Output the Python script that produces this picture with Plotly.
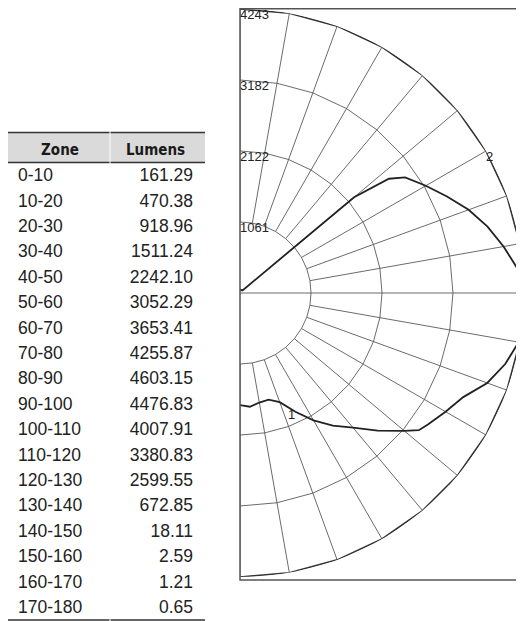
import plotly.graph_objects as go

# ---------------- data ----------------
zones = ["0-10", "10-20", "20-30", "30-40", "40-50", "50-60", "60-70", "70-80",
         "80-90", "90-100", "100-110", "110-120", "120-130", "130-140",
         "140-150", "150-160", "160-170", "170-180"]
lumens = [161.29, 470.38, 918.96, 1511.24, 2242.10, 3052.29, 3653.41, 4255.87,
          4603.15, 4476.83, 4007.91, 3380.83, 2599.55, 672.85, 18.11, 2.59,
          1.21, 0.65]
headers = ["Zone", "Lumens"]

ring_values = [1061, 2122, 3182, 4243]
grid_angles = list(range(0, 181, 10))

curve1_angles = [0, 5, 10, 15, 20, 25, 30, 35, 40, 45, 50, 52.5, 55, 60, 65,
                 70, 75, 80, 85, 90]
curve1_cd = [1676, 1706, 1662, 1650, 1736, 1958, 2196, 2418, 2626, 2908, 3205,
             3368, 3427, 3546, 3680, 3931, 4102, 4228, 4320, 4330]

curve2_angles = [90, 95, 100, 105, 110, 115, 120, 125, 127.5, 130, 135, 140,
                 145, 150, 155, 160, 165, 170, 175, 180]
curve2_cd = [4330, 4162, 3998, 3828, 3635, 3412, 3205, 3012, 2804, 2225, 60,
             50, 50, 50, 50, 50, 50, 50, 50, 50]

curve_labels = ["1", "2"]

# ---------------- figure ----------------
W, H = 516, 613
fig = go.Figure()


def py(y):  # pixel-from-top -> paper fraction
    return (H - y) / H


clear = "rgba(0,0,0,0)"
header_font = dict(family="Liberation Sans Narrow, DejaVu Sans Condensed, Liberation Sans",
                   size=15, color="#1a1a1a")

# header row of the table
fig.add_trace(go.Table(
    domain=dict(x=[2 / W, 193 / W], y=[py(220), py(125)]),
    columnwidth=[100, 91],
    header=dict(values=["<b>%s</b>" % h for h in headers], align="center", height=29,
                fill_color=clear, line=dict(color=clear, width=0), font=header_font),
    cells=dict(values=[[""], [""]], height=25.4, fill_color=clear,
               line=dict(color=clear, width=0)),
))

# body rows of the table
fig.add_trace(go.Table(
    domain=dict(x=[2 / W, 193 / W], y=[0, py(122)]),
    columnwidth=[100, 91],
    header=dict(values=["", ""], height=30,
                fill_color=clear, line=dict(color=clear, width=0), font=header_font),
    cells=dict(
        values=[zones, lumens],
        format=[None, ".2f"],
        align=["left", "right"],
        height=25.4,
        fill_color=clear,
        line=dict(color=clear, width=0),
        font=dict(family="Liberation Sans, Arial", size=17.5, color="#222"),
    ),
))

polar_kw = dict(subplot="polar", showlegend=False, hoverinfo="skip")

# inner rings
r_rings, t_rings = [], []
for v in ring_values[:-1]:
    r_rings += [v] * len(grid_angles) + [None]
    t_rings += grid_angles + [None]
fig.add_trace(go.Scatterpolar(r=r_rings, theta=t_rings, mode="lines",
                              line=dict(color="#5a5a5a", width=0.9), **polar_kw))

# spokes
r_sp, t_sp = [], []
for a in grid_angles:
    inner = 0 if a == 90 else ring_values[0]
    r_sp += [inner, ring_values[-1], None]
    t_sp += [a, a, None]
fig.add_trace(go.Scatterpolar(r=r_sp, theta=t_sp, mode="lines",
                              line=dict(color="#5a5a5a", width=0.9), **polar_kw))

# outer ring
fig.add_trace(go.Scatterpolar(r=[ring_values[-1]] * len(grid_angles), theta=grid_angles,
                              mode="lines", line=dict(color="#333", width=1.6), **polar_kw))

# curves
fig.add_trace(go.Scatterpolar(r=curve1_cd, theta=curve1_angles, mode="lines",
                              line=dict(color="#222", width=1.8), **polar_kw))
fig.add_trace(go.Scatterpolar(r=curve2_cd, theta=curve2_angles, mode="lines",
                              line=dict(color="#222", width=1.8), **polar_kw))

# ring labels
fig.add_trace(go.Scatterpolar(r=ring_values, theta=[180] * len(ring_values),
                              mode="text", text=[str(v) for v in ring_values],
                              textposition="bottom right", cliponaxis=False,
                              textfont=dict(family="Liberation Sans, Arial", size=13, color="#222"),
                              **polar_kw))

# curve labels
fig.add_trace(go.Scatterpolar(r=[1995, ring_values[-1]], theta=[22.7, 120],
                              mode="text", text=curve_labels,
                              textposition=["middle center", "bottom right"], cliponaxis=False,
                              textfont=dict(family="Liberation Sans, Arial", size=13, color="#222"),
                              **polar_kw))

rule = dict(color="#333", width=1.5)
shapes = [
    # frame around the polar diagram
    dict(type="rect", xref="paper", yref="paper", layer="above",
         x0=232 / W, x1=1.05, y0=py(572), y1=py(0.75),
         line=dict(color="#555", width=1.5)),
    # header background (two column blocks)
    dict(type="rect", xref="paper", yref="paper", layer="below",
         x0=0, x1=101.5 / W, y0=py(154), y1=py(125),
         fillcolor="#dadada", line=dict(width=0)),
    dict(type="rect", xref="paper", yref="paper", layer="below",
         x0=102.5 / W, x1=197 / W, y0=py(154), y1=py(125),
         fillcolor="#dadada", line=dict(width=0)),
]
for y in (124.5, 154.5, 612):
    shapes.append(dict(type="line", xref="paper", yref="paper", x0=0, x1=101.5 / W,
                       y0=py(y), y1=py(y), line=rule))
    shapes.append(dict(type="line", xref="paper", yref="paper", x0=102.5 / W, x1=197 / W,
                       y0=py(y), y1=py(y), line=rule))

fig.update_layout(
    width=W, height=H,
    margin=dict(l=0, r=0, t=0, b=0),
    paper_bgcolor="white",
    polar=dict(
        domain=dict(x=[232 / W, 1], y=[py(569), py(1)]),
        sector=[-90, 90],
        bgcolor="rgba(0,0,0,0)",
        angularaxis=dict(visible=False, rotation=-90, direction="counterclockwise"),
        radialaxis=dict(visible=False, range=[0, ring_values[-1]]),
    ),
    shapes=shapes,
)

fig.write_html("out.html")
